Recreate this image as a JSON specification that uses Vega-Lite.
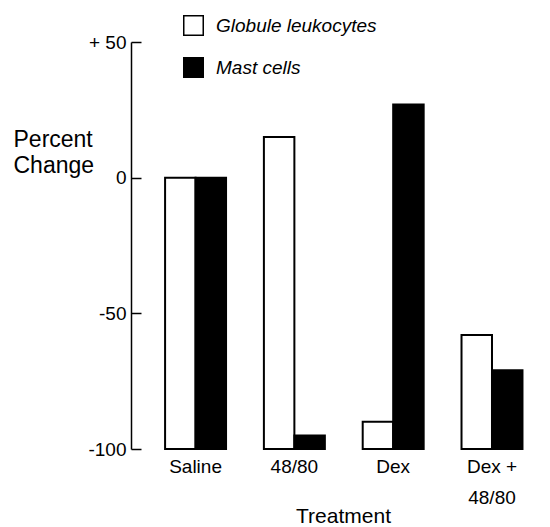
{
  "$schema": "https://vega.github.io/schema/vega-lite/v6.json",
  "autosize": "none",
  "padding": {"left": 131, "top": 42, "right": 19, "bottom": 78},
  "width": 400,
  "height": 407,
  "background": "white",
  "config": {
    "view": {"stroke": null},
    "font": "Liberation Sans",
    "axis": {"labelColor": "black", "titleColor": "black", "domainColor": "black", "tickColor": "black", "labelFontWeight": "normal", "titleFontWeight": "normal"}
  },
  "data": {
    "values": [
      {"treatment": "Saline", "cell": "Globule leukocytes", "value": 0},
      {"treatment": "Saline", "cell": "Mast cells", "value": 0},
      {"treatment": "48/80", "cell": "Globule leukocytes", "value": 15},
      {"treatment": "48/80", "cell": "Mast cells", "value": -95},
      {"treatment": "Dex", "cell": "Globule leukocytes", "value": -90},
      {"treatment": "Dex", "cell": "Mast cells", "value": 27},
      {"treatment": "Dex + 48/80", "cell": "Globule leukocytes", "value": -58},
      {"treatment": "Dex + 48/80", "cell": "Mast cells", "value": -71}
    ]
  },
  "mark": {"type": "bar", "stroke": "black", "strokeWidth": 2},
  "encoding": {
    "x": {
      "field": "treatment",
      "type": "nominal",
      "sort": ["Saline", "48/80", "Dex", "Dex + 48/80"],
      "scale": {"paddingInner": 0.383, "paddingOuter": 0.2156, "align": 0.8},
      "axis": {
        "title": "Treatment",
        "titleFontSize": 21,
        "titleX": 212,
        "titleY": 73,
        "titleBaseline": "alphabetic",
        "labelAngle": 0,
        "labelFontSize": 19,
        "labelPadding": 8,
        "labelLineHeight": 31,
        "labelExpr": "datum.value == 'Dex + 48/80' ? ['Dex +', '48/80'] : datum.label",
        "domain": false,
        "ticks": false
      }
    },
    "xOffset": {"field": "cell", "type": "nominal", "sort": ["Globule leukocytes", "Mast cells"], "scale": {"paddingInner": 0, "paddingOuter": 0}},
    "y": {
      "field": "value",
      "type": "quantitative",
      "scale": {"domain": [-100, 50], "nice": false, "zero": false},
      "axis": {
        "values": [-100, -50, 0, 50],
        "title": ["Percent", "Change"],
        "titleAngle": 0,
        "titleAlign": "left",
        "titleBaseline": "alphabetic",
        "titleX": -118,
        "titleY": 104,
        "titleFontSize": 23,
        "titleLineHeight": 26,
        "labelFontSize": 19,
        "labelExpr": "datum.value > 0 ? '+ ' + datum.value : (datum.value < 0 ? '-' + abs(datum.value) : '0')",
        "tickSize": -10,
        "labelPadding": 15,
        "grid": false,
        "domainWidth": 1.5,
        "tickWidth": 1.5
      }
    },
    "y2": {"datum": -100},
    "fill": {
      "field": "cell",
      "type": "nominal",
      "sort": ["Globule leukocytes", "Mast cells"],
      "scale": {"domain": ["Globule leukocytes", "Mast cells"], "range": ["white", "black"]},
      "legend": {
        "title": null,
        "orient": "none",
        "legendX": 52,
        "legendY": -27,
        "symbolType": "square",
        "symbolSize": 380,
        "symbolStrokeColor": "black",
        "symbolStrokeWidth": 1.5,
        "labelFontSize": 19,
        "labelFontStyle": "italic",
        "labelColor": "black",
        "labelOffset": 12,
        "labelLimit": 400,
        "rowPadding": 15
      }
    }
  }
}
